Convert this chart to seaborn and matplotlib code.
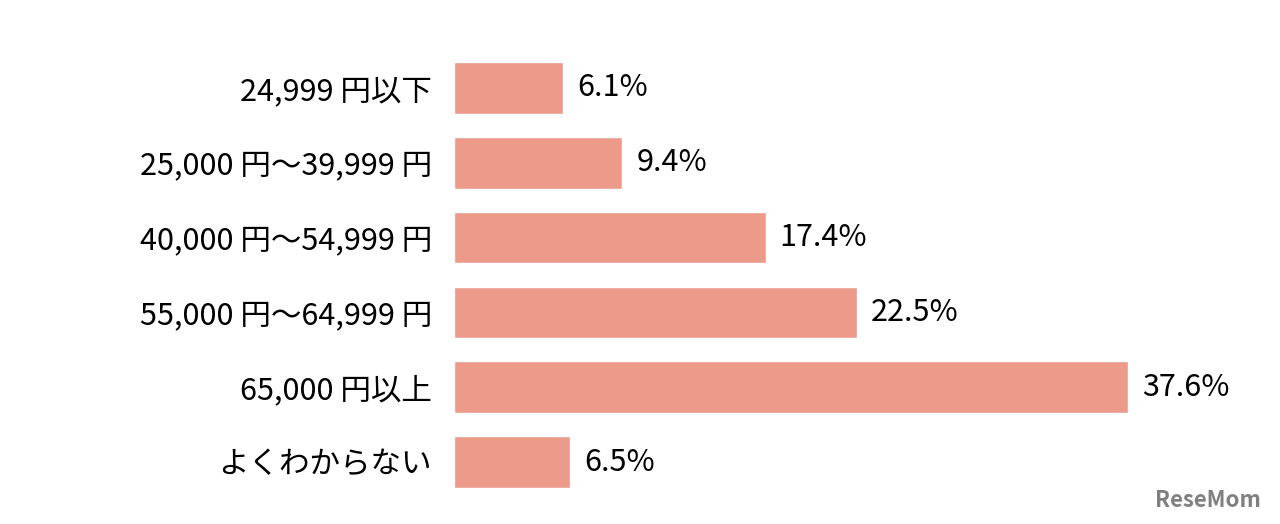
import matplotlib
matplotlib.use("Agg")
import matplotlib.pyplot as plt
import seaborn as sns
import pandas as pd

categories = ["24,999 円以下", "25,000 円〜39,999 円", "40,000 円〜54,999 円",
              "55,000 円〜64,999 円", "65,000 円以上", "よくわからない"]
values = [6.1, 9.4, 17.4, 22.5, 37.6, 6.5]

sns.set_style("white")
plt.rcParams['font.family'] = ['Noto Sans CJK JP', 'DejaVu Sans']

df = pd.DataFrame({"category": categories, "value": values})

fig = plt.figure(figsize=(12.8, 5.24), dpi=100)
ax = fig.add_axes([0.3547, 0.0468, 0.56, 0.8568])
sns.barplot(data=df, x="value", y="category", color="#EC9B8B", width=0.69,
            saturation=1, ax=ax)

ax.set_xlim(0, 40)
ax.set_ylim(5.5, -0.5)
ax.set_xlabel("")
ax.set_ylabel("")
ax.set_xticks([])
ax.tick_params(axis="y", length=0, pad=16, labelsize=22, labelcolor="#000000")
for s in ax.spines.values():
    s.set_visible(False)

for i, v in enumerate(values):
    ax.annotate(f"{v}%", (v, i), xytext=(10, 0), textcoords="offset points",
                va="center", ha="left", fontsize=22, color="#000000")

fig.text(0.985, 0.045, "ReseMom", ha="right", va="center", fontsize=16,
         fontweight="bold", color="#808080")

fig.savefig("out.png", dpi=100)
